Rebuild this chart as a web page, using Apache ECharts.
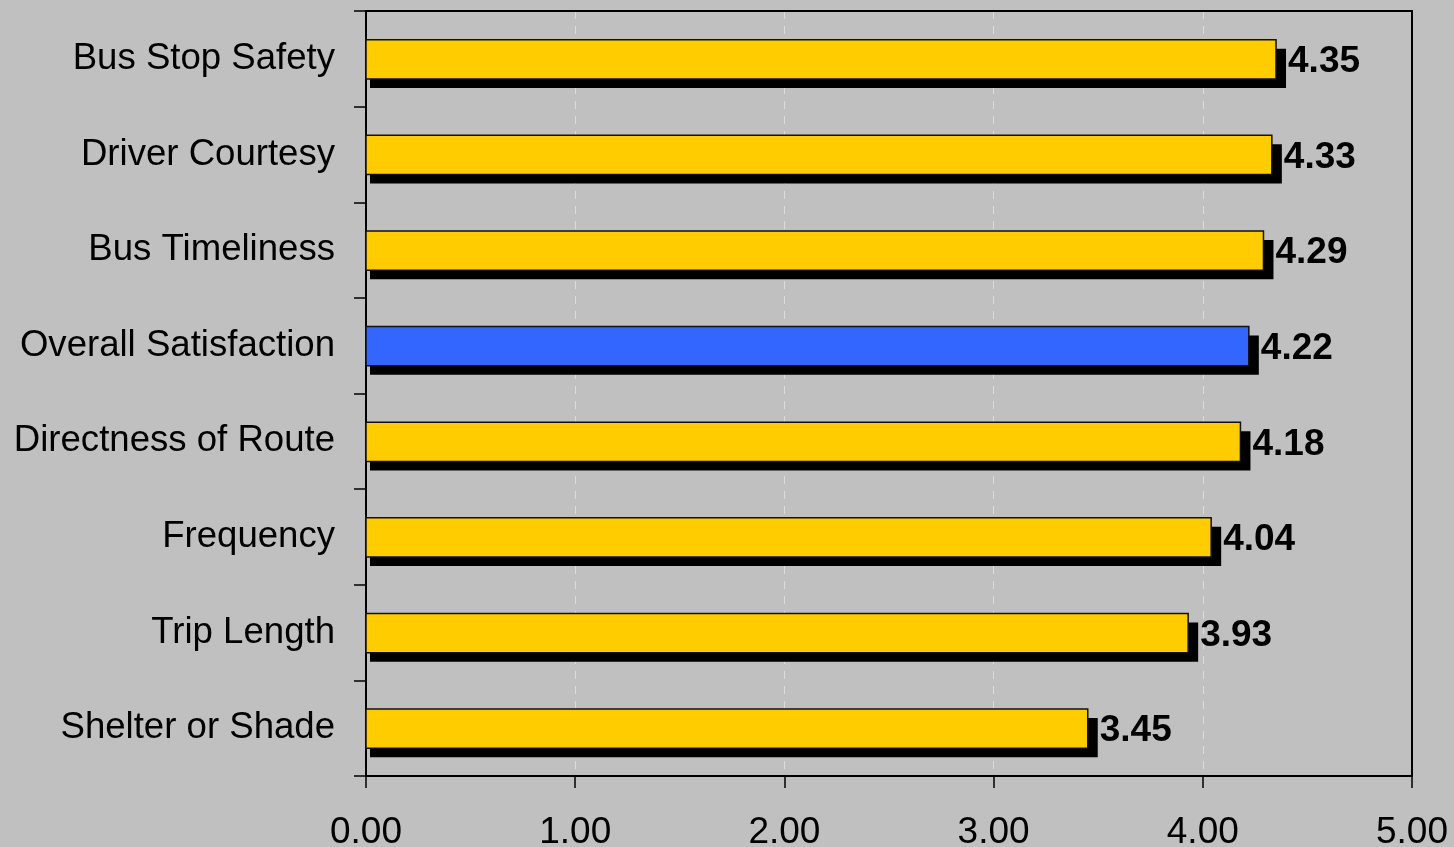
<!DOCTYPE html>
<html>
<head>
<meta charset="utf-8">
<script src="https://cdn.jsdelivr.net/npm/echarts@6/dist/echarts.min.js"></script>
<style>
html,body{margin:0;padding:0;background:#C0C0C0;}
#c{width:1454px;height:847px;}
</style>
</head>
<body>
<div id="c"></div>
<script>
const categories = ["Bus Stop Safety","Driver Courtesy","Bus Timeliness","Overall Satisfaction","Directness of Route","Frequency","Trip Length","Shelter or Shade"];
const values = [4.35,4.33,4.29,4.22,4.18,4.04,3.93,3.45];
const highlight = "Overall Satisfaction";
const xTicks = [0,1,2,3,4,5];

const FONT = '"Liberation Sans", Arial, sans-serif';
const chart = echarts.init(document.getElementById('c'));
const data = values.map((v,i)=>[v,i,categories[i]]);

chart.setOption({
  backgroundColor:'#C0C0C0',
  animation:false,
  grid:{left:366,right:42,top:11,bottom:71,show:false,containLabel:false,outerBoundsMode:'none'},
  xAxis:[{
    type:'value',min:xTicks[0],max:xTicks[xTicks.length-1],interval:1,
    axisLine:{show:true,lineStyle:{color:'#000',width:2}},
    axisTick:{show:true,length:12,lineStyle:{color:'#000',width:1.5}},
    axisLabel:{formatter:v=>v.toFixed(2),fontSize:37,color:'#000',fontFamily:FONT,margin:38},
    splitLine:{show:true,lineStyle:{color:'#DCDCDC',width:1,type:[8,7]}}
  },{
    type:'value',position:'top',min:xTicks[0],max:xTicks[xTicks.length-1],z:5,
    axisLine:{show:true,lineStyle:{color:'#000',width:2}},
    axisTick:{show:false},axisLabel:{show:false},splitLine:{show:false}
  }],
  yAxis:[{
    type:'category',data:categories,inverse:true,
    axisLine:{show:true,lineStyle:{color:'#000',width:2}},
    axisTick:{show:true,length:12,lineStyle:{color:'#000',width:1.5}},
    axisLabel:{fontSize:36.6,color:'#000',fontFamily:FONT,margin:31,padding:[0,0,5,0]},
    splitLine:{show:false}
  },{
    type:'value',position:'right',z:5,
    axisLine:{show:true,onZero:false,lineStyle:{color:'#000',width:2}},
    axisTick:{show:false},axisLabel:{show:false},splitLine:{show:false}
  }],
  series:[{
    type:'custom',
    xAxisIndex:0,yAxisIndex:0,
    data:data,
    encode:{x:0,y:1},
    renderItem:function(params,api){
      const v=api.value(0), c=api.value(1);
      const p0=api.coord([0,c]), p1=api.coord([v,c]);
      const band=api.size([0,1])[1];
      const h=band*0.41;
      const top=p0[1]-h/2+0.5;
      const w=p1[0]-p0[0];
      const color = categories[c]===highlight ? '#3366FF' : '#FFCC00';
      return {type:'group',children:[
        {type:'rect',shape:{x:p0[0]+4,y:top+9,width:w+6,height:h},style:{fill:'#000'}},
        {type:'rect',shape:{x:p0[0],y:top,width:w,height:h},style:{fill:color,stroke:'#111',lineWidth:1.5}},
        {type:'text',x:p1[0]+12,y:p0[1]+3,style:{text:v.toFixed(2),font:'bold 37px '+FONT,fill:'#000',verticalAlign:'middle',align:'left'}}
      ]};
    }
  }]
});
</script>
</body>
</html>
